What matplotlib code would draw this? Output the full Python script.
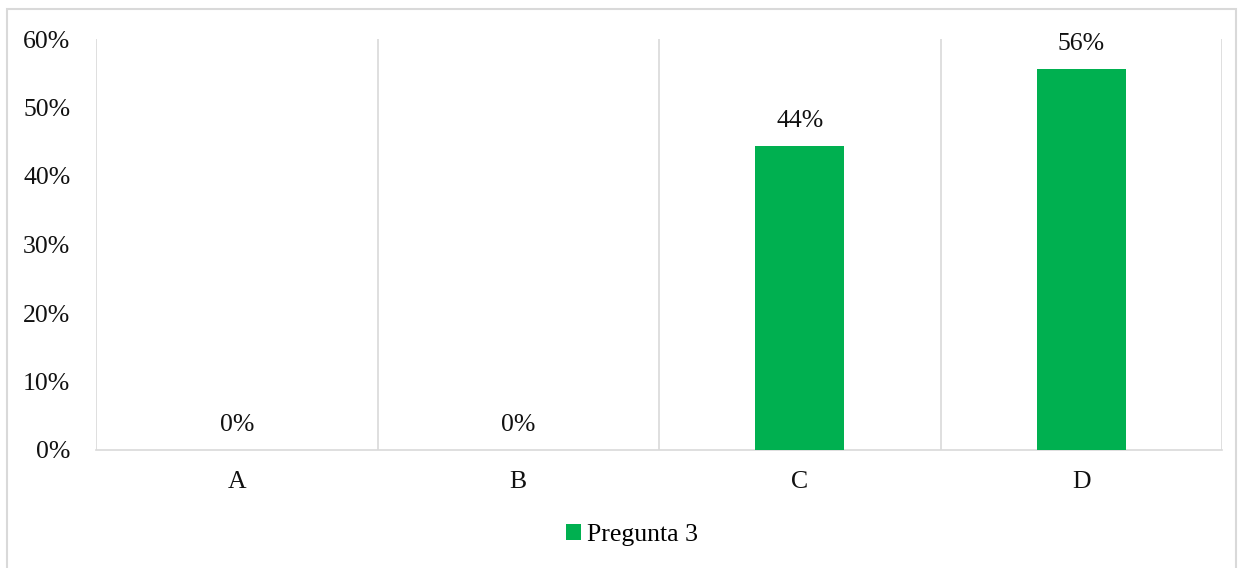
import matplotlib.pyplot as plt
from matplotlib.patches import Rectangle
from matplotlib.ticker import FuncFormatter, FixedLocator

categorias = ['A', 'B', 'C', 'D']
valores = [0, 0, 44.4, 55.6]
etiquetas = ['0%', '0%', '44%', '56%']
serie = 'Pregunta 3'

plt.rcParams['font.family'] = ['Liberation Serif', 'DejaVu Serif']
fs = 18.5

fig = plt.figure(figsize=(12.44, 5.68), dpi=100)
ax = fig.add_axes([96 / 1244, 1 - 450 / 568, (1222 - 96) / 1244, (450 - 39) / 568])

x = range(len(categorias))
barras = ax.bar(x, valores, width=0.316, color='#00B050', label=serie, zorder=3)
for b, txt in zip(barras, etiquetas):
    ax.text(b.get_x() + b.get_width() / 2, b.get_height() + 2.0, txt,
            ha='center', va='bottom', fontsize=fs, color='#111111')

ax.set_xlim(-0.5, 3.5)
ax.set_ylim(0, 60)
ax.set_xticks(list(x))
ax.set_xticklabels(categorias)
ax.xaxis.set_minor_locator(FixedLocator([-0.5, 0.5, 1.5, 2.5, 3.5]))
ax.grid(axis='x', which='minor', color='#d9d9d9', linewidth=1.2)
ax.set_yticks(range(0, 61, 10))
ax.yaxis.set_major_formatter(FuncFormatter(lambda v, p: f'{int(v)}%'))
ax.tick_params(axis='both', which='both', length=0, labelsize=fs, colors='#111111')
ax.tick_params(axis='x', pad=15)
ax.tick_params(axis='y', pad=18.5)

for s in ['top', 'right', 'left']:
    ax.spines[s].set_visible(False)
ax.spines['bottom'].set_color('#d9d9d9')
ax.spines['bottom'].set_linewidth(1.2)

fig.legend(loc='center', bbox_to_anchor=(0.508, 1 - 535 / 568), frameon=False,
           fontsize=fs, handlelength=0.6, handleheight=0.6, handletextpad=0.25)

fig.patches.append(Rectangle((7 / 1244, -0.01), (1236 - 7) / 1244, 1 - 9 / 568 + 0.01,
                             transform=fig.transFigure, fill=False,
                             edgecolor='#d9d9d9', linewidth=1.5))

fig.savefig('out.png', dpi=100)
